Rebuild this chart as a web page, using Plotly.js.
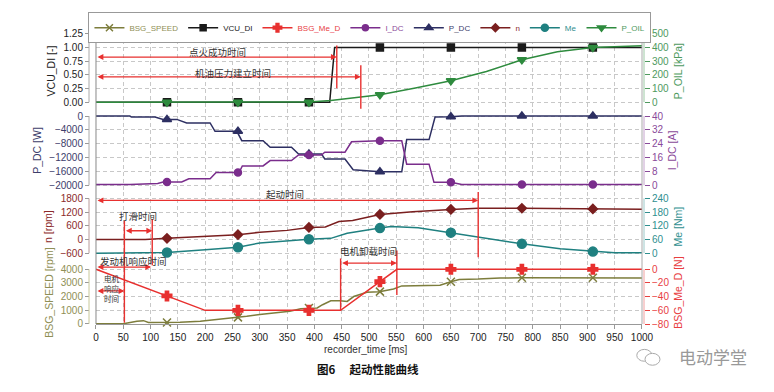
<!DOCTYPE html>
<html><head><meta charset="utf-8">
<script src="https://cdn.plot.ly/plotly-3.0.1.min.js"></script>
<style>html,body{margin:0;padding:0;background:#fff}#chart{width:774px;height:392px}</style>
</head><body><div id="chart"></div>
<script>
// ---------------- data ----------------
const markerTimes = [130, 260, 390, 520, 650, 780, 910];

const t_vcu = [0, 428, 437, 1000];
const vcu   = [0, 0, 1, 1];
const mk_vcu = [0, 0, 0, 1, 1, 1, 1];

const t_poil = [0, 390, 430, 483, 520, 585, 650, 715, 780, 845, 910, 1000];
const poil   = [0, 2, 12, 38, 55, 104, 157, 224, 310, 369, 400, 412];
const mk_poil = [0, 0, 0, 55, 157, 310, 400];

const t_pdc = [0, 62, 65, 108, 123, 148, 166, 209, 218, 258, 267, 306, 319, 358, 371, 413, 419, 456, 471, 520, 560, 569, 610, 621, 650, 670, 1000];
const pdc   = [0, 0, -290, -290, -960, -960, -2000, -2000, -4400, -4400, -7100, -7100, -9000, -9000, -10950, -10950, -12400, -12400, -15500, -16100, -16100, -6800, -6800, -300, -200, 0, 0];
const mk_pdc = [-960, -4400, -10950, -16100, -200, 0, 0];

const t_idc = [0, 62, 113, 123, 157, 170, 209, 220, 262, 268, 306, 319, 358, 371, 413, 419, 456, 468, 520, 560, 569, 610, 619, 650, 670, 1000];
const idc   = [0.4, 0.4, 1.0, 1.9, 1.9, 3.8, 3.8, 7.4, 7.4, 11.2, 11.2, 14.3, 14.3, 17.5, 17.5, 19.1, 19.1, 25.1, 25.7, 25.7, 12.2, 12.2, 1.7, 1.7, 0.4, 0.4];
const mk_idc = [1.9, 7.4, 17.5, 25.7, 1.7, 0.4, 0.4];

const t_n = [0, 90, 130, 200, 260, 300, 350, 390, 420, 445, 470, 520, 580, 650, 700, 780, 910, 1000];
const n_rpm = [0, 0, 50, 130, 210, 320, 400, 530, 545, 790, 830, 1100, 1220, 1320, 1370, 1370, 1340, 1330];
const mk_n = [50, 210, 530, 1100, 1320, 1370, 1340];

const t_me = [0, 80, 130, 200, 260, 300, 350, 390, 430, 460, 520, 540, 590, 650, 700, 780, 850, 910, 950, 1000];
const me   = [0, 0, 3, 15, 26, 45, 55, 61, 65, 87, 110, 117, 112, 90, 70, 41, 19, 7, 2, 2];
const mk_me = [3, 26, 61, 110, 90, 41, 7];

const t_spd = [0, 50, 75, 87, 96, 154, 191, 221, 252, 276, 300, 330, 355, 375, 405, 415, 430, 447, 460, 472, 496, 519, 532, 545, 560, 630, 650, 665, 700, 740, 780, 910, 1000];
const spd   = [0, 0, 190, 230, 100, 120, 190, 300, 410, 550, 675, 795, 916, 1100, 1160, 1400, 1690, 1690, 1640, 2000, 2315, 2360, 2480, 2550, 2780, 2830, 3080, 3250, 3280, 3360, 3373, 3380, 3360];
const mk_spd = [100, 470, 1157, 2360, 3080, 3373, 3380];

const t_med = [0, 200, 448, 551, 1000];
const med   = [0, -60, -60, 0, 0];
const mk_med = [-39, -60, -60, -18, 0, 0, 0];

const xTicks = [0,50,100,150,200,250,300,350,400,450,500,550,600,650,700,750,800,850,900,950,1000];
const vcuTicks = [0, 0.25, 0.5, 0.75, 1.0, 1.25];
const poilTicks = [0, 100, 200, 300, 400, 500];
const pdcTicks = [0, -4000, -8000, -12000, -16000, -20000];
const idcTicks = [0, 8, 16, 24, 32, 40];
const nTicks = [-600, 0, 600, 1200, 1800];
const meTicks = [0, 60, 120, 180, 240];
const spdTicks = [0, 1000, 2000, 3000, 4000];
const medTicks = [-80, -60, -40, -20, 0];

// event times for the annotation brackets (ms)
const t_slip0 = 52, t_slip1 = 103, t_engResp = 101, t_ign = 441, t_oil = 485, t_start = 700, t_unl0 = 448, t_unl1 = 551;

// ---------------- styling ----------------
const C = {spd:'#7d7d3c', vcu:'#1a1a1a', med:'#e8302f', idc:'#7a2d8c', pdc:'#2d2f62', n:'#7a1f1f', me:'#1f8080', poil:'#2e8b3e'};
const LBL = {spd:'#8f8f55', vcu:'#222', med:'#e8403f', idc:'#8a4a9a', pdc:'#3d3d6b', n:'#8b2a2a', me:'#2f8f8f', poil:'#4e9a5e'};
const RED = '#e8302f';
const FONT = 'Liberation Sans, Arial, sans-serif';
const CJK = 'Noto Sans CJK SC, sans-serif';

function line(x, y, color, yaxis, w) {
  return {type:'scatter', mode:'lines', x:x, y:y, xaxis:'x', yaxis:yaxis, line:{color:color, width:w||1.5}, showlegend:false, hoverinfo:'skip'};
}
function marks(y, color, yaxis, symbol, size) {
  return {type:'scatter', mode:'markers', x:markerTimes, y:y, xaxis:'x', yaxis:yaxis,
    marker:{symbol:symbol, size:size, color:color, line:{color:color, width:1.5}}, showlegend:false, hoverinfo:'skip', cliponaxis:false};
}
function leg(name, key, symbol, size) {
  return {type:'scatter', mode:'lines+markers', x:[null], y:[null], xaxis:'x', yaxis:'y',
    name:'<span style="color:' + LBL[key] + '">' + name + '</span>',
    line:{color:C[key], width:1.5}, marker:{symbol:symbol, size:size, color:C[key], line:{color:C[key], width:1.5}}, hoverinfo:'skip'};
}

const data = [
  leg('BSG_SPEED', 'spd', 'x-thin', 7),
  leg('VCU_DI', 'vcu', 'square', 6),
  leg('BSG_Me_D', 'med', 'cross', 7),
  leg('I_DC', 'idc', 'circle', 6),
  leg('P_DC', 'pdc', 'triangle-up', 7),
  leg('n', 'n', 'diamond', 6),
  leg('Me', 'me', 'circle', 7),
  leg('P_OIL', 'poil', 'triangle-down', 7),
  // panel 1
  line(t_vcu, vcu, C.vcu, 'y7'), marks(mk_vcu, C.vcu, 'y7', 'square', 7),
  line(t_poil, poil, C.poil, 'y8'), marks(mk_poil, C.poil, 'y8', 'triangle-down', 8),
  // panel 2
  line(t_idc, idc, C.idc, 'y6'), marks(mk_idc, C.idc, 'y6', 'circle', 7),
  line(t_pdc, pdc, C.pdc, 'y5'), marks(mk_pdc, C.pdc, 'y5', 'triangle-up', 8),
  // panel 3
  line(t_me, me, C.me, 'y4'), marks(mk_me, C.me, 'y4', 'circle', 9),
  line(t_n, n_rpm, C.n, 'y3'), marks(mk_n, C.n, 'y3', 'diamond', 7),
  // panel 4
  line(t_spd, spd, C.spd, 'y'), marks(mk_spd, C.spd, 'y', 'x-thin', 8),
  line(t_med, med, C.med, 'y2'), marks(mk_med, C.med, 'y2', 'cross', 8)
];

const GRID = '#c8c8c8';
function leftAx(domain, range, ticks, key, title, fmt) {
  return {domain:domain, range:range, anchor:'free', position:0, tickvals:ticks, tickformat:fmt||'',
    ticks:'outside', ticklen:4, tickcolor:'#999', showline:false, zeroline:false,
    showgrid:true, gridcolor:GRID, griddash:'4px,3px', gridwidth:1,
    tickfont:{family:FONT, size:10, color:LBL[key]},
    title:{text:title, font:{family:FONT, size:10.5, color:LBL[key]}, standoff:4}};
}
function rightAx(over, range, ticks, key, title) {
  return {overlaying:over, side:'right', anchor:'free', position:1, range:range, tickvals:ticks,
    ticks:'outside', ticklen:5, tickcolor:LBL[key], showline:false, zeroline:false, showgrid:false,
    tickfont:{family:FONT, size:10, color:LBL[key]},
    title:{text:title, font:{family:FONT, size:10.5, color:LBL[key]}, standoff:6}};
}

const D1 = [0.73836, 1], D2 = [0.45396, 0.73836], D3 = [0.21577, 0.45396], D4 = [0, 0.21577];

function axLine(yref, y0, y1, x, color) {
  return {type:'line', xref:'paper', yref:yref, x0:x, x1:x, y0:y0, y1:y1, line:{color:color, width:1}};
}
function vline(x, y0, y1, yref) {
  return {type:'line', xref:'x', yref:yref, x0:x, x1:x, y0:y0, y1:y1, line:{color:RED, width:1.4}};
}
function arrow(x0, x1, y, yref) {
  return {xref:'x', yref:yref, axref:'x', ayref:yref, x:x1, y:y, ax:x0, ay:y, text:'', showarrow:true,
    arrowhead:2, arrowside:'end+start', arrowsize:0.9, arrowwidth:1.3, arrowcolor:RED, standoff:0, startstandoff:0};
}
function label(x, y, yref, text, size) {
  return {xref:'x', yref:yref, x:x, y:y, xanchor:'center', yanchor:'middle', text:text, showarrow:false,
    font:{family:CJK, size:size||9.5, color:'#333'}};
}

const XD = [0.01261, 0.9964];
const shapes = [
  {type:'line', xref:'paper', yref:'paper', x0:XD[0], x1:XD[0], y0:0, y1:1, line:{color:'#888', width:1}},
  {type:'line', xref:'paper', yref:'paper', x0:XD[1], x1:XD[1], y0:0, y1:1, line:{color:'#aaa', width:1}},
  axLine('y7', 0, 1.25, 0, '#aaa'), axLine('y5', -20000, 0, 0, '#aaa'),
  axLine('y3', -600, 1800, 0, '#b89a9a'), axLine('y', 0, 4000, 0, '#c8c89a'),
  axLine('y8', 0, 500, 1, '#9cc8a4'), axLine('y6', 0, 40, 1, '#c4a4cc'),
  axLine('y4', 0, 240, 1, '#9cc8c8'), axLine('y2', -80, 0, 1, '#f0a0a0'),
  vline(t_ign, 1.034, 0.2525, 'y7'),
  vline(t_oil, 0.673, -0.121, 'y7'),
  vline(t_start, 2086, -773, 'y3'),
  vline(t_slip0, 0.3544, 0.0044, 'paper'),
  vline(t_slip1, 0.3612, 0.2015, 'paper'),
  vline(t_unl0, 0.2253, 0.0462, 'paper'),
  vline(t_unl1, 0.2525, 0.0996, 'paper'),
  // watermark icon
  {type:'circle', xref:'paper', yref:'paper', x0:0.987, x1:1.0144, y0:-0.128, y1:-0.0873, line:{color:'#aaa', width:1}},
  {type:'circle', xref:'paper', yref:'paper', x0:1.0018, x1:1.0288, y0:-0.1417, y1:-0.1009, line:{color:'#aaa', width:1}, fillcolor:'#fff'}
];

const annotations = [
  arrow(0, t_ign, 0.824, 'y7'), label(222, 0.92, 'y7', '点火成功时间'),
  arrow(0, t_oil, 0.4636, 'y7'), label(251, 0.541, 'y7', '机油压力建立时间'),
  arrow(0, t_start, 1713, 'y3'), label(346, 1986, 'y3', '起动时间'),
  arrow(t_slip0, t_slip1, 383, 'y3'), label(77, 1033, 'y3', '打滑时间'),
  arrow(0, t_engResp, 4166, 'y'), label(68, 0.2168, 'paper', '发动机响应时间'),
  arrow(0, t_slip0, 2409, 'y'),
  label(29, 2590, 'y', '电机<br>响应<br>时间', 7.5),
  arrow(t_unl0, t_unl1, 4455, 'y'), label(499, 0.2525, 'paper', '电机卸载时间'),
  {xref:'paper', yref:'paper', x:0.499, y:-0.0873, xanchor:'center', yanchor:'middle',
    text:'recorder_time [ms]', showarrow:false, font:{family:FONT, size:10, color:'#333'}},
  {xref:'paper', yref:'paper', x:0.5027, y:-0.1553, xanchor:'center', yanchor:'middle',
    text:'<b>图6　 起动性能曲线</b>', showarrow:false, font:{family:CJK, size:11.5, color:'#111'}},
  {xref:'paper', yref:'paper', x:1.124, y:-0.111, xanchor:'center', yanchor:'middle', text:'电动学堂', showarrow:false,
    font:{family:CJK, size:17, color:'#999'}}
];

const layout = {
  width:774, height:392,
  margin:{l:89, r:130, t:30, b:67.7, pad:0},
  paper_bgcolor:'#fff', plot_bgcolor:'#fff',
  showlegend:true,
  legend:{orientation:'h', x:-0.001, xanchor:'left', y:1.0714, yanchor:'top',
    bgcolor:'#fff', bordercolor:'#999', borderwidth:1, font:{family:FONT, size:8}, itemwidth:30},
  xaxis:{domain:XD, range:[0, 1000], anchor:'y', tickvals:xTicks, ticks:'outside', ticklen:4, tickcolor:'#999',
    showline:true, linecolor:'#999', linewidth:1, zeroline:false,
    showgrid:true, gridcolor:GRID, griddash:'4px,3px', gridwidth:1,
    tickfont:{family:FONT, size:10, color:'#222'}},
  yaxis:leftAx(D4, [-15, 4593], spdTicks, 'spd', 'BSG_SPEED [rpm]'),
  yaxis2:rightAx('y', [-80, 11.86], medTicks, 'med', 'BSG_Me_D [N]'),
  yaxis3:leftAx(D3, [-950.9, 2085.9], nTicks, 'n', 'n [rpm]'),
  yaxis4:rightAx('y3', [-35.09, 268.6], meTicks, 'me', 'Me [Nm]'),
  yaxis5:leftAx(D2, [-21914, 2000], pdcTicks, 'pdc', 'P_DC [W]', 'd'),
  yaxis6:rightAx('y5', [-3.829, 44], idcTicks, 'idc', 'I_DC [A]'),
  yaxis7:leftAx(D1, [-0.1263, 1.2626], vcuTicks, 'vcu', 'VCU_DI [-]', '.2f'),
  yaxis8:rightAx('y7', [-50.5, 505.1], poilTicks, 'poil', 'P_OIL [kPa]'),
  shapes:shapes,
  annotations:annotations
};

Plotly.newPlot('chart', data, layout, {staticPlot:true, displayModeBar:false});
</script>
</body></html>
